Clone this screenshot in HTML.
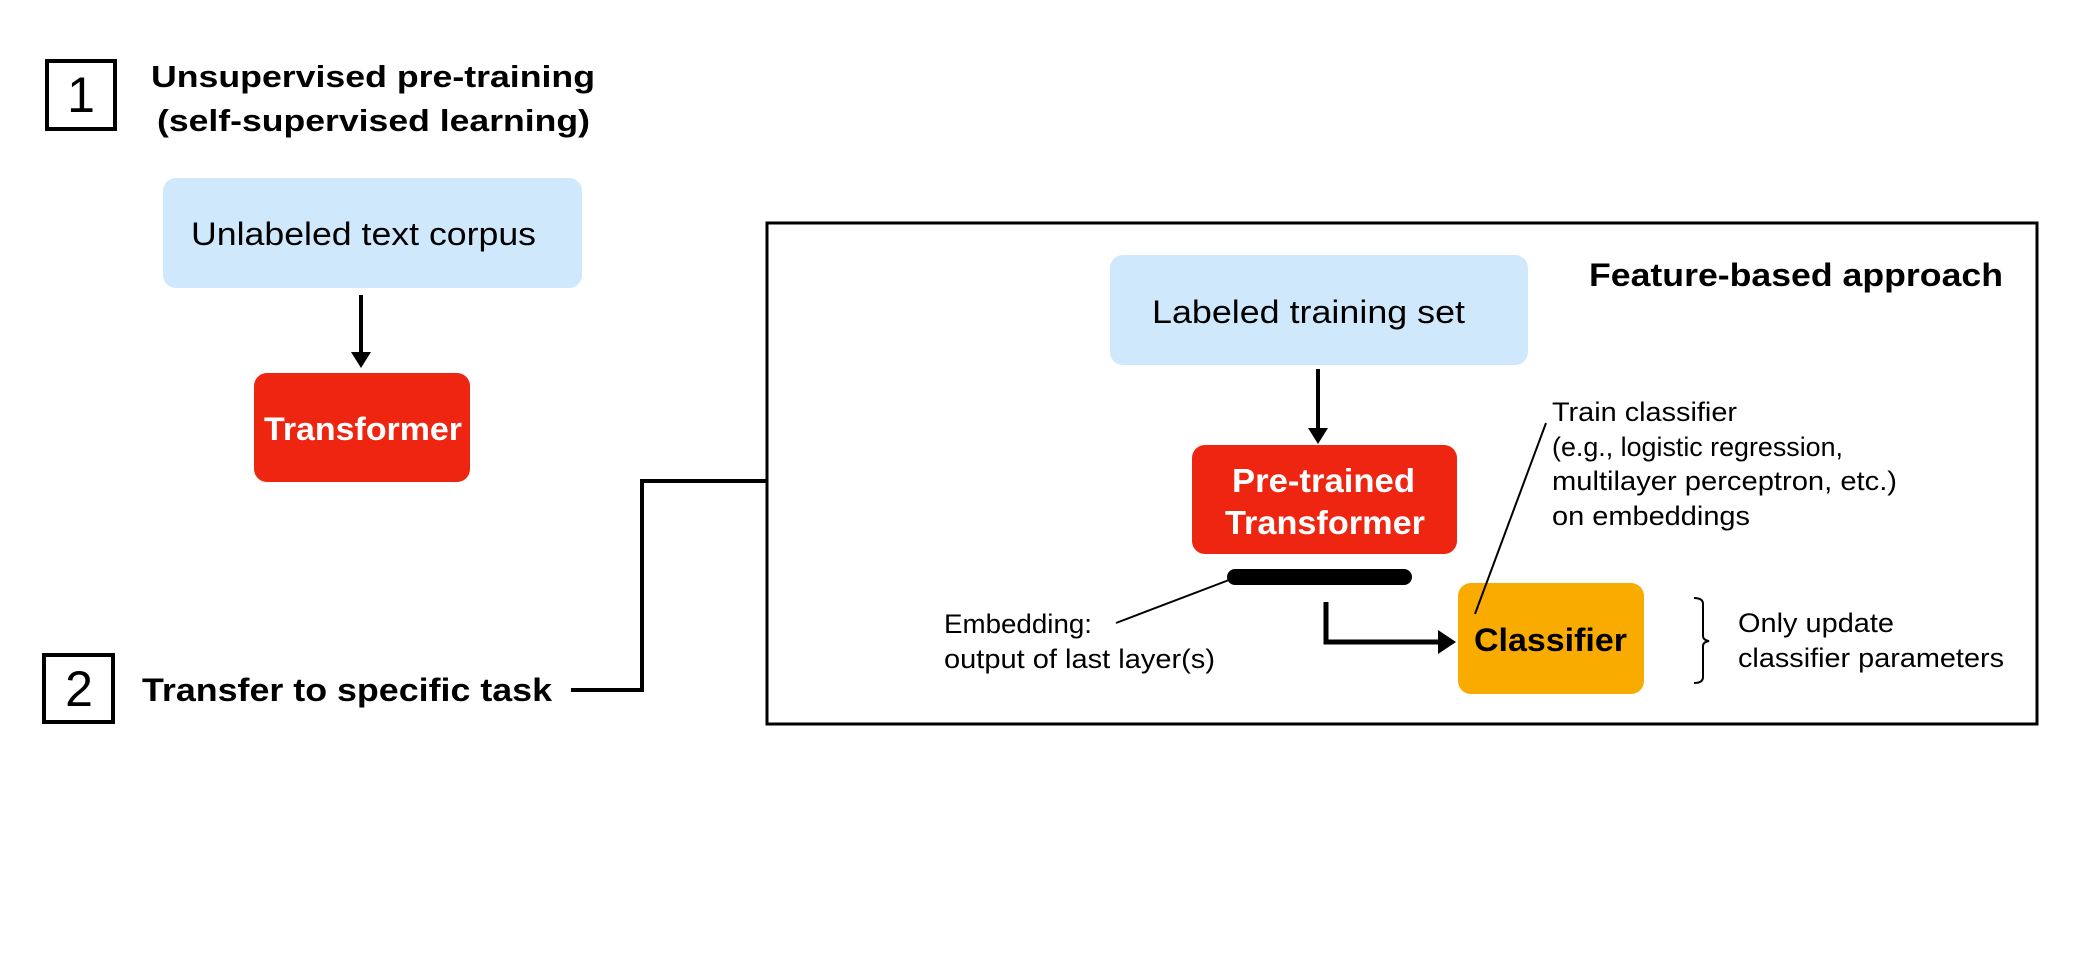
<!DOCTYPE html>
<html><head><meta charset="utf-8"><style>
html,body{margin:0;padding:0;background:#fff;}
svg{display:block;}
text{font-family:"Liberation Sans",Arial,sans-serif;}
</style></head><body>
<svg width="2073" height="971" viewBox="0 0 2073 971" xmlns="http://www.w3.org/2000/svg">
<!-- box 1 -->
<rect x="47" y="61" width="68" height="68" fill="none" stroke="#000" stroke-width="4"/>
<text x="81" y="112" font-size="50" text-anchor="middle">1</text>
<text x="151" y="87" font-size="31" font-weight="bold" textLength="444" lengthAdjust="spacingAndGlyphs">Unsupervised pre-training</text>
<text x="157" y="131" font-size="31" font-weight="bold" textLength="433" lengthAdjust="spacingAndGlyphs">(self-supervised learning)</text>
<rect x="163" y="178" width="419" height="110" rx="13" fill="#cfe8fc"/>
<text x="191" y="245" font-size="32" textLength="345" lengthAdjust="spacingAndGlyphs">Unlabeled text corpus</text>
<line x1="361" y1="295" x2="361" y2="356" stroke="#000" stroke-width="4"/>
<path d="M351,352 L371,352 L361,368 Z" fill="#000"/>
<rect x="254" y="373" width="216" height="109" rx="13" fill="#ee2511"/>
<text x="264" y="440" font-size="32" font-weight="bold" fill="#fff" textLength="198" lengthAdjust="spacingAndGlyphs">Transformer</text>
<!-- box 2 -->
<rect x="44" y="655" width="69" height="67" fill="none" stroke="#000" stroke-width="4"/>
<text x="79" y="706" font-size="50" text-anchor="middle">2</text>
<text x="142" y="701" font-size="32" font-weight="bold" textLength="410" lengthAdjust="spacingAndGlyphs">Transfer to specific task</text>
<polyline points="571,690 642,690 642,481 767,481" fill="none" stroke="#000" stroke-width="4"/>
<!-- big box -->
<rect x="767" y="223" width="1270" height="501" fill="none" stroke="#000" stroke-width="3"/>
<text x="1589" y="286" font-size="32" font-weight="bold" textLength="414" lengthAdjust="spacingAndGlyphs">Feature-based approach</text>
<rect x="1110" y="255" width="418" height="110" rx="13" fill="#cfe8fc"/>
<text x="1152" y="323" font-size="32" textLength="313" lengthAdjust="spacingAndGlyphs">Labeled training set</text>
<line x1="1318" y1="369" x2="1318" y2="432" stroke="#000" stroke-width="4"/>
<path d="M1308,428 L1328,428 L1318,444 Z" fill="#000"/>
<rect x="1192" y="445" width="265" height="109" rx="13" fill="#ee2511"/>
<text x="1232" y="492" font-size="33" font-weight="bold" fill="#fff" textLength="183" lengthAdjust="spacingAndGlyphs">Pre-trained</text>
<text x="1225" y="534" font-size="33" font-weight="bold" fill="#fff" textLength="200" lengthAdjust="spacingAndGlyphs">Transformer</text>
<rect x="1227" y="569" width="185" height="16" rx="8" fill="#000"/>
<line x1="1116" y1="623" x2="1229" y2="580" stroke="#000" stroke-width="2"/>
<text x="944" y="633" font-size="27" textLength="148" lengthAdjust="spacingAndGlyphs">Embedding:</text>
<text x="944" y="668" font-size="27" textLength="271" lengthAdjust="spacingAndGlyphs">output of last layer(s)</text>
<polyline points="1326,602 1326,642 1440,642" fill="none" stroke="#000" stroke-width="5"/>
<path d="M1438,630 L1456,642 L1438,654 Z" fill="#000"/>
<rect x="1458" y="583" width="186" height="111" rx="13" fill="#f9ab00"/>
<text x="1474" y="651" font-size="32" font-weight="bold" textLength="153" lengthAdjust="spacingAndGlyphs">Classifier</text>
<line x1="1475" y1="614" x2="1546" y2="423" stroke="#000" stroke-width="2"/>
<text x="1552" y="421" font-size="27" textLength="185" lengthAdjust="spacingAndGlyphs">Train classifier</text>
<text x="1552" y="456" font-size="27" textLength="291" lengthAdjust="spacingAndGlyphs">(e.g., logistic regression,</text>
<text x="1552" y="490" font-size="27" textLength="345" lengthAdjust="spacingAndGlyphs">multilayer perceptron, etc.)</text>
<text x="1552" y="525" font-size="27" textLength="198" lengthAdjust="spacingAndGlyphs">on embeddings</text>
<path d="M1694,598 Q1703,598 1703,604 L1703,636 Q1703,640 1709,641 Q1703,642 1703,646 L1703,677 Q1703,683 1694,683" fill="none" stroke="#000" stroke-width="2"/>
<text x="1738" y="632" font-size="27" textLength="156" lengthAdjust="spacingAndGlyphs">Only update</text>
<text x="1738" y="667" font-size="27" textLength="266" lengthAdjust="spacingAndGlyphs">classifier parameters</text>
</svg>
</body></html>
